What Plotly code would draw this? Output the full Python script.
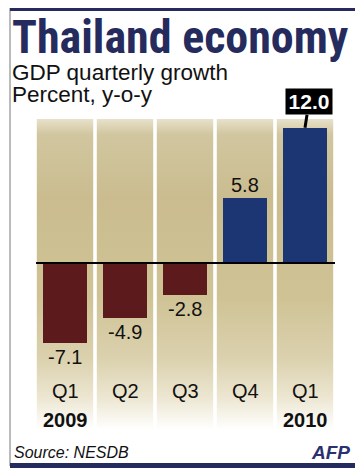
import plotly.graph_objects as go

# ---- data ----
quarters = ["Q1", "Q2", "Q3", "Q4", "Q1"]
years = ["2009", "", "", "", "2010"]
growth = [-7.1, -4.9, -2.8, 5.8, 12.0]

# page body has an 8px margin -> figure is 8px smaller and offset
OFF = 8
W, H = 363 - OFF, 473 - OFF
NEG_COLOR = "#5c1a1c"
POS_COLOR = "#1b3673"
NAVY = "#262b5e"
FONT = "Liberation Sans, Arial"

idx = list(range(len(quarters)))
bar_colors = [NEG_COLOR if v < 0 else POS_COLOR for v in growth]

PXU = 11.27            # pixels per unit
ZERO = 263 - OFF       # pixel row of zero
Y_TOP, Y_BOT = ZERO / PXU, -(H - ZERO) / PXU
COL_TOP, COL_BOT = (ZERO - (119 - OFF)) / PXU, -((430 - OFF) - ZERO) / PXU


def px(p):
    return (p - OFF) / W


def py(p):
    return 1 - (p - OFF) / H


fig = go.Figure()

# background columns with vertical gradient
grad = [
    [0.0, "#ffffff"],
    [0.10, "#ede7d3"],
    [0.23, "#dbd1ae"],
    [0.42, "#cfc396"],
    [0.74, "#cabc8f"],
    [0.95, "#d1c69f"],
    [1.0, "#e8e1cb"],
]
cw = 0.47
for i in idx:
    fig.add_trace(go.Scatter(
        x=[i - cw, i + cw, i + cw, i - cw, i - cw],
        y=[COL_BOT, COL_BOT, COL_TOP, COL_TOP, COL_BOT],
        mode="lines", line=dict(width=0), fill="toself",
        fillgradient=dict(type="vertical", start=COL_BOT, stop=COL_TOP, colorscale=grad),
        hoverinfo="skip", showlegend=False, xaxis="x", yaxis="y",
    ))

# bars on an overlaying axis pair so they sit above the gradient columns
fig.add_trace(go.Bar(
    x=idx, y=growth, width=0.72,
    marker=dict(color=bar_colors, line=dict(width=0)),
    showlegend=False, hoverinfo="skip", xaxis="x2", yaxis="y2",
))

annotations = []
for i, v in zip(idx, growth):
    if i == len(idx) - 1:
        annotations.append(dict(
            x=i, y=v, xref="x", yref="y", text="<b>%.1f</b>" % v,
            showarrow=True, arrowhead=0, arrowwidth=3, arrowcolor="black",
            ax=4, ay=-26, standoff=0, bgcolor="black", borderpad=1,
            width=44, height=23,
            font=dict(family=FONT, size=21, color="white"),
        ))
    else:
        annotations.append(dict(
            x=i, y=v, xref="x", yref="y", text="%.1f" % v, showarrow=False,
            yanchor="middle", yshift=(13 if v > 0 else -14),
            font=dict(family=FONT, size=20, color="#111111"),
        ))

for i, q, yr in zip(idx, quarters, years):
    annotations.append(dict(
        x=i, y=py(391), xref="x", yref="paper", yanchor="middle",
        text=q, showarrow=False,
        font=dict(family=FONT, size=20, color="#111111"),
    ))
    if yr:
        annotations.append(dict(
            x=i, y=py(420), xref="x", yref="paper", yanchor="middle",
            text="<b>%s</b>" % yr, showarrow=False,
            font=dict(family=FONT, size=20, color="#111111"),
        ))

annotations += [
    dict(x=px(10), y=py(37), xref="paper", yref="paper", xanchor="left", yanchor="middle",
         text="<b>Thailand economy</b>", showarrow=False,
         font=dict(family="Roboto Condensed, Liberation Sans", size=46, color=NAVY)),
    dict(x=px(10), y=py(72), xref="paper", yref="paper", xanchor="left", yanchor="middle",
         text="GDP quarterly growth", showarrow=False,
         font=dict(family=FONT, size=22.5, color="#111111")),
    dict(x=px(10), y=py(94), xref="paper", yref="paper", xanchor="left", yanchor="middle",
         text="Percent, y-o-y", showarrow=False,
         font=dict(family=FONT, size=22.5, color="#111111")),
    dict(x=px(12), y=py(452), xref="paper", yref="paper", xanchor="left", yanchor="middle",
         text="<i>Source: NESDB</i>", showarrow=False,
         font=dict(family=FONT, size=16, color="#111111")),
    dict(x=px(352), y=py(452), xref="paper", yref="paper", xanchor="right", yanchor="middle",
         text="<b><i>AFP</i></b>", showarrow=False,
         font=dict(family=FONT, size=19, color="#2a3070")),
]

shapes = [
    dict(type="line", xref="x", yref="y", x0=-0.483, x1=4.5, y0=0, y1=0,
         line=dict(color="black", width=2)),
    dict(type="rect", xref="paper", yref="paper", x0=px(10), x1=px(356), y0=py(466), y1=py(8),
         line=dict(color="#777777", width=1), layer="above"),
    dict(type="rect", xref="paper", yref="paper", x0=px(10), x1=px(356.5), y0=py(11), y1=py(6),
         fillcolor=NAVY, line=dict(width=0), layer="above"),
    dict(type="rect", xref="paper", yref="paper", x0=px(10), x1=px(356.5), y0=py(468), y1=py(463),
         fillcolor=NAVY, line=dict(width=0), layer="above"),
]

xdom = [px(35), px(335)]
fig.update_layout(
    width=W, height=H,
    margin=dict(l=0, r=0, t=0, b=0),
    paper_bgcolor="white", plot_bgcolor="rgba(0,0,0,0)",
    xaxis=dict(range=[-0.5, 4.5], domain=xdom, visible=False, fixedrange=True),
    yaxis=dict(range=[Y_BOT, Y_TOP], domain=[0, 1], visible=False, fixedrange=True),
    xaxis2=dict(range=[-0.5, 4.5], overlaying="x", visible=False, fixedrange=True),
    yaxis2=dict(range=[Y_BOT, Y_TOP], overlaying="y", visible=False, fixedrange=True),
    bargap=0,
    annotations=annotations,
    shapes=shapes,
)

fig.write_html("out.html")
